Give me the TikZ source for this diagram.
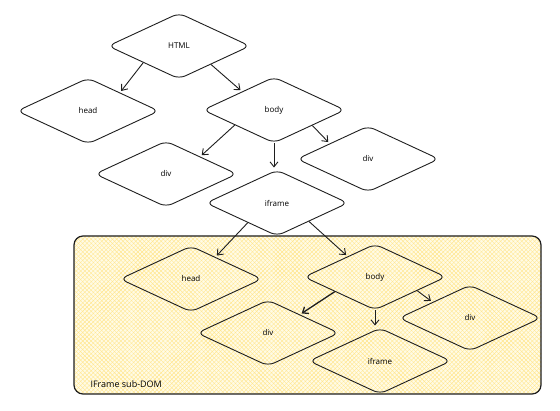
\documentclass[tikz,border=0pt]{standalone}
\usepackage{fontspec}
\setmainfont{Open Sans}
\usetikzlibrary{shapes.geometric,arrows.meta,patterns.meta}
\definecolor{ink}{RGB}{30,30,30}
\definecolor{subdomfill}{RGB}{255,251,230}
\definecolor{hatch}{RGB}{255,230,140}

\begin{document}
\begin{tikzpicture}[x=1pt, y=-1pt,
  domnode/.style={diamond, draw=ink, line width=0.9pt, rounded corners=7pt,
    minimum width=142pt, minimum height=66pt, inner sep=0pt,
    font=\fontsize{8}{10}\selectfont},
  treearrow/.style={draw=ink, line width=0.9pt,
    -{Straight Barb[length=5pt,width=8pt]}, shorten >=2pt}]
  \useasboundingbox (0,0) rectangle (560,411);

  % IFrame sub-DOM box
  \fill[subdomfill, rounded corners=9pt] (74,236) rectangle (541,394);
  \fill[pattern={Lines[angle=45,distance=3pt,line width=0.4pt]}, pattern color=hatch,
    rounded corners=9pt] (74,236) rectangle (541,394);
  \fill[pattern={Lines[angle=-45,distance=3pt,line width=0.4pt]}, pattern color=hatch,
    rounded corners=9pt] (74,236) rectangle (541,394);
  \draw[ink, line width=1.2pt, rounded corners=9pt] (74,236) rectangle (541,394);
  \node[anchor=base west, font=\fontsize{9}{11}\selectfont] (subdomlabel) at (87,388) {IFrame sub-DOM};

  % Outer document
  \node[domnode] (html)   at (179,46)  {HTML};
  \node[domnode] (head)   at (88,111)  {head};
  \node[domnode] (body)   at (274,110) {body};
  \node[domnode] (divl)   at (166,174) {div};
  \node[domnode] (divr)   at (368,159) {div};
  \node[domnode] (iframe) at (277,203) {iframe};

  % Inner document
  \node[domnode] (ihead)   at (191,279) {head};
  \node[domnode] (ibody)   at (375,277) {body};
  \node[domnode] (idivl)   at (268,333) {div};
  \node[domnode] (idivr)   at (470,318) {div};
  \node[domnode] (iiframe) at (380,361) {iframe};

  % Arrows
  \draw[treearrow] (html.205) -- (head.30);
  \draw[treearrow] (html.330) -- (body.150);
  \draw[treearrow] (body.201) -- (divl.27);
  \draw[treearrow] (body.south) -- (body.south |- iframe.north);
  \draw[treearrow] (body.338) -- (divr.158);
  \draw[treearrow] (iframe.214) -- (ihead.42);
  \draw[treearrow] (iframe.330) -- (ibody.143);
  \draw[treearrow, line width=1.3pt] (ibody.200) -- (idivl.30);
  \draw[treearrow] (ibody.south) -- (ibody.south |- iiframe.north);
  \draw[treearrow] (ibody.342) -- (idivr.157);

\end{tikzpicture}
\end{document}
